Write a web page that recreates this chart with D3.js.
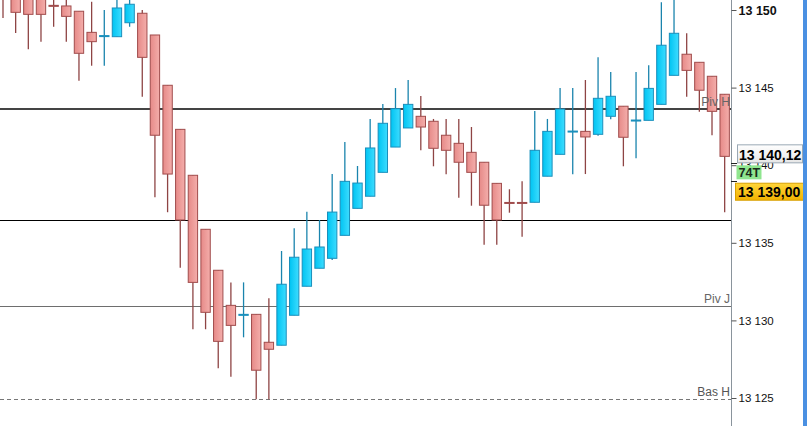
<!DOCTYPE html>
<html>
<head>
<meta charset="utf-8">
<script src="https://cdn.jsdelivr.net/npm/d3@7"></script>
<style>
body { margin: 0; background: #fff; }
svg { display: block; font-family: "Liberation Sans", Arial, sans-serif; }
</style>
</head>
<body>
<svg></svg>
<script>
// candle values, left to right
let opens = [13151.40,13151.30,13151.20,13151.00,13150.30,13150.26,13149.92,13148.56,13148.31,13148.28,
  13149.18,13149.79,13148.39,13145.15,13142.31,13139.35,13135.87,13133.23,13130.97,13130.35,
  13130.39,13128.59,13128.40,13130.33,13132.20,13133.36,13134.00,13135.48,13137.22,13138.00,
  13139.54,13141.17,13142.40,13143.15,13142.83,13141.93,13141.41,13140.83,13140.19,13138.83,
  13137.60,13137.60,13137.61,13139.29,13140.70,13142.16,13142.18,13141.99,13143.15,13143.80,
  13142.87,13142.89,13143.92,13145.79,13147.15,13146.63,13145.73,13144.57]
let highs = [13151.60,13151.60,13151.50,13151.40,13150.90,13150.90,13149.92,13150.53,13150.00,13150.80,
  13150.80,13150.00,13148.39,13145.15,13142.31,13139.35,13135.87,13133.23,13132.45,13132.45,
  13130.39,13131.42,13134.47,13135.93,13137.00,13136.47,13139.43,13141.49,13139.95,13142.98,
  13143.94,13144.97,13145.49,13144.46,13142.98,13142.98,13142.98,13142.46,13140.19,13138.83,
  13138.45,13138.96,13143.49,13142.98,13144.97,13144.97,13145.49,13146.95,13146.01,13143.80,
  13146.01,13146.44,13150.50,13150.90,13148.50,13146.63,13145.73,13144.57]
let lows = [13149.48,13148.52,13147.47,13147.96,13148.92,13147.96,13145.44,13146.41,13146.41,13148.28,
  13148.92,13144.41,13137.93,13136.97,13133.40,13129.43,13129.43,13126.91,13126.37,13128.91,
  13124.92,13124.92,13128.40,13130.33,13132.20,13133.36,13133.89,13135.48,13137.22,13138.00,
  13139.54,13141.17,13142.40,13140.96,13139.93,13139.41,13137.91,13137.39,13134.88,13134.88,
  13136.94,13135.39,13137.61,13139.29,13140.70,13139.41,13139.43,13141.90,13142.96,13139.93,
  13140.45,13142.89,13143.92,13145.79,13144.41,13143.45,13141.93,13136.97]
let closes = [13150.75,13149.85,13149.72,13149.72,13150.26,13149.59,13147.21,13147.96,13148.35,13150.13,
  13150.37,13146.95,13141.93,13139.43,13136.47,13132.45,13130.52,13128.65,13129.68,13130.39,
  13126.79,13128.14,13132.33,13134.07,13134.60,13134.73,13136.98,13138.96,13138.85,13141.11,
  13142.70,13143.64,13143.92,13142.46,13141.09,13140.96,13140.19,13139.54,13137.42,13136.47,
  13137.56,13137.56,13140.96,13142.18,13143.62,13142.20,13141.82,13144.31,13144.44,13141.80,
  13142.91,13144.95,13147.73,13148.50,13146.11,13144.83,13143.47,13140.57]

// price axis
let axisTicks = [13150, 13145, 13140, 13135, 13130, 13125]
let axisLabels = ["13 150", "13 145", "13 140", "13 135", "13 130", "13 125"]

// level lines
let levelValues = [13143.65, 13136.47, 13130.93, 13124.95]
let levelNames = ["Piv H", "", "Piv J", "Bas H"]

// price markers
let lastPrice = 13140.12
let lastPriceLabel = "13 140,12"
let tickCount = "74T"
let markPrice = 13139.00
let markPriceLabel = "13 139,00"

let width = 807
let height = 426
let plotRight = 731

let svg = d3.select("svg").attr("width", width).attr("height", height)

let defs = svg.append("defs")
let gradRed = defs.append("linearGradient").attr("id", "gRed")
gradRed.append("stop").attr("offset", "0%").attr("stop-color", "#e68a88")
gradRed.append("stop").attr("offset", "100%").attr("stop-color", "#f4aeab")
let gradBlue = defs.append("linearGradient").attr("id", "gBlue")
gradBlue.append("stop").attr("offset", "0%").attr("stop-color", "#00c4f2")
gradBlue.append("stop").attr("offset", "100%").attr("stop-color", "#3ddcff")
let gradGold = defs.append("linearGradient").attr("id", "gGold").attr("x2", 0).attr("y2", 1)
gradGold.append("stop").attr("offset", "0%").attr("stop-color", "#ffd53a")
gradGold.append("stop").attr("offset", "100%").attr("stop-color", "#f2b200")
let gradWhite = defs.append("linearGradient").attr("id", "gWhite").attr("x2", 0).attr("y2", 1)
gradWhite.append("stop").attr("offset", "0%").attr("stop-color", "#ffffff")
gradWhite.append("stop").attr("offset", "100%").attr("stop-color", "#e6e6e6")
defs.append("clipPath").attr("id", "plotClip")
  .append("rect").attr("x", 0).attr("y", 0).attr("width", plotRight).attr("height", height)

let xScale = d3.scaleBand()
  .domain(d3.range(opens.length))
  .range([-3.33, plotRight])

let yScale = d3.scaleLinear()
  .domain([13125, 13150])
  .range([398, 10])

let plot = svg.append("g").attr("clip-path", "url(#plotClip)")

// level lines
let levelStyle = [
  {stroke: "#444", w: 2, dash: null},
  {stroke: "#000", w: 1, dash: null},
  {stroke: "#6e6e6e", w: 1, dash: null},
  {stroke: "#777", w: 1, dash: "4,3"}
]
let snap = (d, i) => levelStyle[i].w % 2 == 0 ? Math.round(yScale(d)) : Math.round(yScale(d)) + 0.5
plot.selectAll(".level")
  .data(levelValues)
  .enter()
  .append("line")
  .attr("class", "level")
  .attr("x1", 0)
  .attr("x2", plotRight)
  .attr("y1", snap)
  .attr("y2", snap)
  .attr("stroke", (d, i) => levelStyle[i].stroke)
  .attr("stroke-width", (d, i) => levelStyle[i].w)
  .attr("stroke-dasharray", (d, i) => levelStyle[i].dash)
  .attr("shape-rendering", "crispEdges")

let candles = plot.selectAll(".candle")
  .data(d3.range(opens.length))
  .enter()
  .append("g")
  .attr("class", "candle")

let isUp = i => closes[i] >= opens[i]
let bw = xScale.bandwidth() * 0.74

candles.append("line")
  .attr("x1", i => xScale(i) + xScale.bandwidth() / 2)
  .attr("x2", i => xScale(i) + xScale.bandwidth() / 2)
  .attr("y1", i => yScale(highs[i]))
  .attr("y2", i => yScale(lows[i]))
  .attr("stroke", i => isUp(i) ? "#1a84ad" : "#8e4444")
  .attr("stroke-width", 1.3)

candles.append("rect")
  .attr("x", i => xScale(i) + xScale.bandwidth() / 2 - bw / 2)
  .attr("width", bw)
  .attr("y", i => yScale(Math.max(opens[i], closes[i])))
  .attr("height", i => Math.max(1, Math.abs(yScale(opens[i]) - yScale(closes[i]))))
  .attr("fill", i => isUp(i) ? "url(#gBlue)" : "url(#gRed)")
  .attr("stroke", i => isUp(i) ? "#1a8fbc" : "#a04c4c")
  .attr("stroke-width", 1)

// level names
svg.selectAll(".levelName")
  .data(levelValues)
  .enter()
  .append("text")
  .attr("class", "levelName")
  .attr("x", plotRight - 1)
  .attr("y", d => yScale(d) - 2.5)
  .attr("text-anchor", "end")
  .attr("font-size", 12)
  .attr("fill", (d, i) => i == 3 ? "#555" : "#666")
  .text((d, i) => levelNames[i])

// right axis
let yAxis = d3.axisRight(yScale)
  .tickValues(axisTicks)
  .tickSize(5)
  .tickFormat((d, i) => axisLabels[i])
let ax = svg.append("g")
  .attr("transform", "translate(" + (plotRight + 0.5) + ",0)")
  .call(yAxis)
ax.select(".domain").attr("stroke", "#8a949c").attr("d", "M0,0V" + height)
ax.selectAll(".tick line").attr("stroke", "#555")
ax.selectAll(".tick text")
  .attr("x", 7)
  .attr("font-family", "'Liberation Sans', Arial, sans-serif")
  .attr("fill", "#111")
  .attr("font-weight", (d, i) => i == 0 ? "bold" : "normal")
  .style("font-size", (d, i) => i == 0 ? "12.5px" : "11.5px")

// marker ticks
svg.selectAll(".markTick")
  .data([lastPrice, markPrice])
  .enter()
  .append("line")
  .attr("x1", plotRight)
  .attr("x2", plotRight + 6)
  .attr("y1", d => Math.round(yScale(d)) + 0.5)
  .attr("y2", d => Math.round(yScale(d)) + 0.5)
  .attr("stroke", "#222")

// last price box
let boxY = yScale(lastPrice)
svg.append("rect")
  .attr("x", 737.5).attr("y", boxY - 18.5)
  .attr("width", 65).attr("height", 18)
  .attr("fill", "url(#gWhite)")
  .attr("stroke", "#9aa8b4")
svg.append("text")
  .attr("x", 739).attr("y", boxY - 3.5)
  .attr("font-size", 14).attr("font-weight", "bold").attr("fill", "#000")
  .text(lastPriceLabel)

// tick count box
svg.append("rect")
  .attr("x", 736.5).attr("y", boxY + 2)
  .attr("width", 25).attr("height", 14)
  .attr("fill", "#8fe68f")
svg.append("text")
  .attr("x", 738.5).attr("y", boxY + 13.5)
  .attr("font-size", 12.5).attr("font-weight", "bold").attr("fill", "#1a2a1a")
  .text(tickCount)

// mark price box
let markY = yScale(markPrice)
svg.append("rect")
  .attr("x", 735.5).attr("y", markY + 2.5)
  .attr("width", 68).attr("height", 17)
  .attr("fill", "url(#gGold)")
  .attr("stroke", "#d9a000")
svg.append("text")
  .attr("x", 738).attr("y", markY + 16)
  .attr("font-size", 14).attr("font-weight", "bold").attr("fill", "#000")
  .text(markPriceLabel)

// right edge bar
svg.append("rect")
  .attr("x", 803).attr("y", 0)
  .attr("width", 4).attr("height", height)
  .attr("fill", "#4a90e2")
</script>
</body>
</html>
